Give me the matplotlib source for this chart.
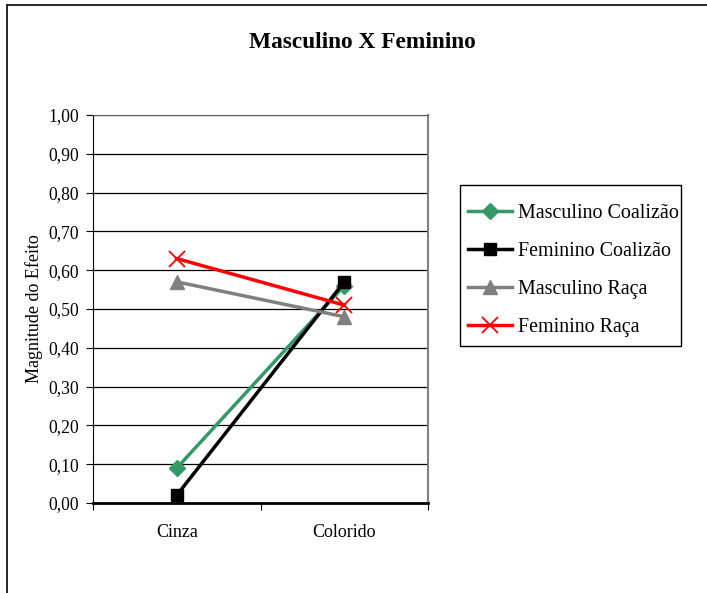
import matplotlib
matplotlib.use("Agg")
import matplotlib.pyplot as plt
from matplotlib.patches import Rectangle

plt.rcParams['font.family'] = ['Liberation Serif', 'DejaVu Serif']

categorias = ["Cinza", "Colorido"]
masc_coalizao = [0.09, 0.56]
fem_coalizao = [0.02, 0.57]
masc_raca = [0.57, 0.48]
fem_raca = [0.63, 0.51]

series = [
    ("Masculino Coalizão", masc_coalizao, "#339966", "D", 8),
    ("Feminino Coalizão", fem_coalizao, "black", "s", 9),
    ("Masculino Raça", masc_raca, "#808080", "^", 10),
    ("Feminino Raça", fem_raca, "red", "x", 11),
]

W, H = 707, 593
fig = plt.figure(figsize=(W / 100, H / 100), dpi=100)
# moldura externa do gráfico
fig.patches.append(Rectangle((7 / W, -0.1), 1.2, 1 - 5 / H + 0.1,
                             transform=fig.transFigure, fill=False,
                             edgecolor="black", linewidth=1.2))

ax = fig.add_axes([93 / W, 1 - 503 / H, (428 - 93) / W, (503 - 115) / H])

xs = [i + 0.5 for i in range(len(categorias))]
for nome, vals, cor, mk, ms in series:
    kw = dict(markeredgewidth=1.3) if mk == "x" else dict(markeredgecolor=cor)
    ax.plot(xs, vals, color=cor, linewidth=2.5, marker=mk, markersize=ms,
            markerfacecolor=cor, label=nome, **kw)

ax.set_xlim(0, len(categorias))
ax.set_ylim(0, 1)
ax.set_yticks([i / 10 for i in range(11)])
ax.set_yticklabels([f"{i / 10:.2f}".replace(".", ",") for i in range(11)], fontsize=12.7)
ax.set_xticks(range(len(categorias) + 1))
ax.set_xticklabels([])
ax.set_xticks(xs, minor=True)
ax.set_xticklabels(categorias, minor=True, fontsize=13)
ax.tick_params(axis="x", which="minor", length=0, pad=15)
ax.tick_params(axis="x", which="major", length=5, direction="out")
ax.tick_params(axis="y", length=5, direction="out", pad=5)
ax.grid(axis="y", color="black", linewidth=0.9)
ax.set_axisbelow(True)

ax.spines["left"].set_color("black")
ax.spines["bottom"].set_color("black")
ax.spines["bottom"].set_linewidth(2)
ax.spines["right"].set_color("#808080")
ax.spines["right"].set_linewidth(1.5)
ax.spines["top"].set_color("#606060")

ax.set_ylabel("Magnitude do Efeito", fontsize=13, labelpad=4)

fig.text(362 / W, 1 - 42 / H, "Masculino X Feminino", ha="center", va="center",
         fontsize=16.8, fontweight="bold")

# legenda sem moldura própria; a caixa é desenhada à parte
leg = ax.legend(loc="upper left", bbox_to_anchor=(468 / W, 1 - 204 / H),
                bbox_transform=fig.transFigure, fontsize=14.4, frameon=False,
                handlelength=2.2, handletextpad=0.3, labelspacing=0.95,
                borderpad=0, borderaxespad=0)
fig.patches.append(Rectangle((460 / W, 1 - 346 / H), (681 - 460) / W, (346 - 185) / H,
                             transform=fig.transFigure, fill=False,
                             edgecolor="black", linewidth=1))

fig.savefig("out.png", dpi=100)
